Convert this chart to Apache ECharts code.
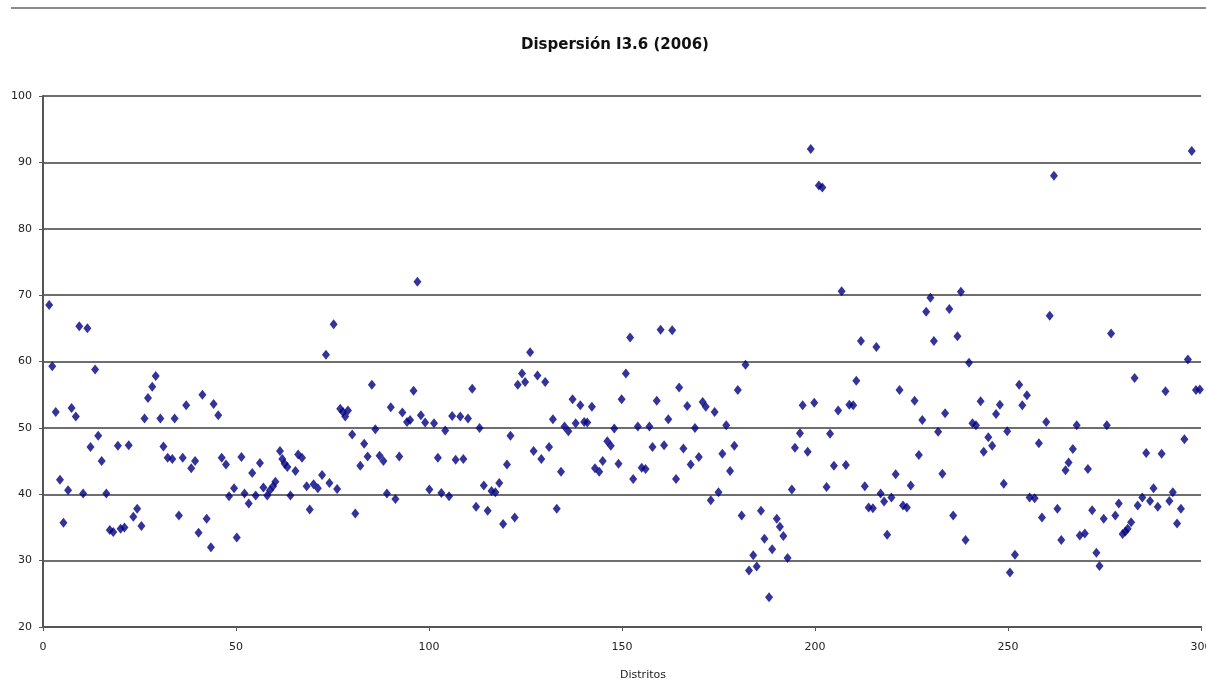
<!DOCTYPE html>
<html>
<head>
<meta charset="utf-8">
<script src="https://cdn.jsdelivr.net/npm/echarts@6/dist/echarts.min.js"></script>
<style>html,body{margin:0;padding:0;background:#fff;}#c{width:1206px;height:699px;}</style>
</head>
<body>
<div id="c"></div>
<script>
const titleText = "Dispersión I3.6 (2006)";
const xAxisName = "Distritos";
const xTicks = [0, 50, 100, 150, 200, 250, 300];
const yTicks = [20, 30, 40, 50, 60, 70, 80, 90, 100];

const distritos = [
1.6,2.4,3.3,4.4,5.3,6.5,7.4,8.5,9.4,10.4,11.5,12.3,13.5,14.3,15.2,16.4,17.3,18.2,19.4,20.1,
21.1,22.2,23.4,24.4,25.5,26.3,27.2,28.3,29.2,30.4,31.2,32.3,33.5,34.1,35.2,36.2,37.1,38.4,39.4,40.3,
41.3,42.4,43.5,44.2,45.4,46.3,47.4,48.2,49.5,50.2,51.4,52.2,53.3,54.2,55.1,56.2,57.1,58.1,58.8,59.6,
60.2,61.4,62.0,62.6,63.3,64.1,65.4,66.1,67.1,68.3,69.1,70.1,71.2,72.3,73.3,74.2,75.3,76.2,77.0,77.7,
78.3,79.0,80.1,80.9,82.2,83.2,84.1,85.2,86.1,87.2,88.2,89.1,90.1,91.3,92.3,93.1,94.3,95.1,96.0,97.0,
97.9,99.0,100.1,101.3,102.3,103.2,104.2,105.2,106.0,106.9,108.1,108.9,110.1,111.2,112.2,113.1,114.2,115.2,116.2,117.2,
118.2,119.2,120.2,121.1,122.2,123.0,124.1,124.9,126.2,127.1,128.1,129.1,130.1,131.1,132.1,133.1,134.2,135.1,136.1,137.2,
138.0,139.2,140.2,141.0,142.2,143.0,144.1,145.0,146.2,147.1,148.0,149.1,149.9,151.0,152.1,152.9,154.1,155.1,156.1,157.1,
157.9,159.0,160.0,160.9,162.0,163.0,164.0,164.8,165.9,166.9,167.8,168.9,169.9,170.9,171.7,173.0,174.0,175.0,176.0,177.0,
178.0,179.1,180.0,181.0,182.0,182.9,184.0,184.9,186.0,186.9,188.1,188.9,190.1,190.9,191.8,192.9,194.0,194.8,196.1,196.8,
198.1,198.9,199.8,201.0,201.9,203.0,203.9,204.9,206.0,206.9,208.0,208.9,209.9,210.7,211.9,212.9,213.9,215.0,215.9,217.0,
217.9,218.7,219.8,220.9,221.9,222.8,223.8,224.8,225.8,226.9,227.8,228.8,229.9,230.8,231.9,233.0,233.7,234.8,235.8,236.9,
237.8,239.0,239.9,240.8,241.7,242.9,243.7,244.9,245.9,246.9,247.9,248.9,249.8,250.5,251.8,252.9,253.7,254.9,255.6,256.9,
258.0,258.8,259.9,260.8,261.9,262.8,263.8,264.9,265.7,266.8,267.8,268.6,269.9,270.7,271.8,272.9,273.7,274.8,275.6,276.7,
277.8,278.7,279.7,280.4,281.0,281.9,282.8,283.6,284.8,285.8,286.8,287.7,288.8,289.8,290.8,291.8,292.7,293.8,294.8,295.7,
296.6,297.6,298.7,299.7
];

const valores = [
68.5,59.3,52.4,42.2,35.7,40.6,53.0,51.7,65.3,40.1,65.0,47.1,58.8,48.8,45.0,40.1,34.6,34.3,47.3,34.8,
35.0,47.4,36.6,37.8,35.2,51.4,54.5,56.2,57.8,51.4,47.2,45.5,45.3,51.4,36.8,45.5,53.4,43.9,45.0,34.2,
55.0,36.3,32.0,53.6,51.9,45.5,44.5,39.7,40.9,33.5,45.6,40.1,38.6,43.2,39.8,44.7,41.0,39.8,40.6,41.2,
41.9,46.5,45.3,44.6,44.1,39.8,43.5,46.0,45.5,41.2,37.7,41.5,40.9,42.9,61.0,41.7,65.6,40.8,52.9,52.4,
51.7,52.6,49.0,37.1,44.3,47.6,45.7,56.5,49.8,45.8,45.0,40.1,53.1,39.3,45.7,52.3,50.9,51.2,55.6,72.0,
51.9,50.8,40.7,50.7,45.5,40.2,49.6,39.7,51.8,45.2,51.7,45.3,51.4,55.9,38.1,50.0,41.3,37.5,40.5,40.3,
41.7,35.5,44.5,48.8,36.5,56.5,58.2,56.9,61.4,46.5,57.9,45.3,56.9,47.1,51.3,37.8,43.4,50.2,49.5,54.3,
50.7,53.4,50.9,50.8,53.2,43.9,43.4,45.0,48.0,47.3,49.9,44.6,54.3,58.2,63.6,42.3,50.2,44.0,43.8,50.2,
47.1,54.1,64.8,47.4,51.3,64.7,42.3,56.1,46.9,53.3,44.5,50.0,45.6,53.9,53.2,39.1,52.4,40.3,46.1,50.4,
43.5,47.3,55.7,36.8,59.5,28.5,30.8,29.1,37.5,33.3,24.5,31.7,36.3,35.1,33.7,30.4,40.7,47.0,49.2,53.4,
46.4,92.0,53.8,86.5,86.2,41.1,49.1,44.3,52.6,70.6,44.4,53.5,53.4,57.1,63.1,41.2,38.0,37.9,62.2,40.1,
38.9,33.9,39.5,43.0,55.7,38.3,38.0,41.3,54.1,45.9,51.2,67.5,69.6,63.1,49.4,43.1,52.2,67.9,36.8,63.8,
70.5,33.1,59.8,50.7,50.4,54.0,46.4,48.6,47.3,52.1,53.5,41.6,49.5,28.2,30.9,56.5,53.4,54.9,39.5,39.4,
47.7,36.5,50.9,66.9,88.0,37.8,33.1,43.6,44.8,46.8,50.4,33.8,34.1,43.8,37.6,31.2,29.2,36.3,50.4,64.2,
36.8,38.6,34.0,34.4,34.8,35.8,57.5,38.3,39.5,46.2,39.0,40.9,38.1,46.1,55.5,39.0,40.3,35.6,37.8,48.3,
60.3,91.7,55.7,55.8
];

const puntos = distritos.map((d, i) => [d, valores[i]]);

const chart = echarts.init(document.getElementById('c'), null, {renderer: 'canvas'});
chart.setOption({
  backgroundColor: '#ffffff',
  animation: false,
  title: {
    text: titleText,
    left: 516,
    top: 33,
    textStyle: {fontFamily: 'DejaVu Sans', fontSize: 15, fontWeight: 'bold', color: '#111'}
  },
  graphic: [{
    type: 'line',
    shape: {x1: 11, y1: 8, x2: 1206, y2: 8},
    style: {stroke: '#8a8a8a', lineWidth: 2}
  }],
  grid: {left: 43, right: 5, top: 96, bottom: 72, containLabel: false, outerBoundsMode: 'none'},
  xAxis: {
    type: 'value',
    min: xTicks[0],
    max: xTicks[xTicks.length - 1],
    interval: 50,
    name: xAxisName,
    nameLocation: 'middle',
    nameGap: 43,
    nameTextStyle: {fontFamily: 'DejaVu Sans', fontSize: 11, color: '#222', padding: [0, 0, 0, 42]},
    axisLine: {show: true, onZero: false, lineStyle: {color: '#555', width: 2}},
    axisTick: {show: true, length: 4, lineStyle: {color: '#555', width: 1}},
    axisLabel: {fontFamily: 'DejaVu Sans', fontSize: 11, color: '#222', margin: 15},
    splitLine: {show: false}
  },
  yAxis: {
    type: 'value',
    min: yTicks[0],
    max: yTicks[yTicks.length - 1],
    interval: 10,
    axisLine: {show: true, onZero: false, lineStyle: {color: '#555', width: 2}},
    axisTick: {show: true, length: 4, lineStyle: {color: '#555', width: 1}},
    axisLabel: {fontFamily: 'DejaVu Sans', fontSize: 11, color: '#222', margin: 11},
    splitLine: {show: true, lineStyle: {color: '#6e6e6e', width: 2}}
  },
  series: [{
    type: 'scatter',
    data: puntos,
    symbol: 'diamond',
    symbolSize: [8, 10],
    itemStyle: {color: '#000080'}
  }]
});
</script>
</body>
</html>
